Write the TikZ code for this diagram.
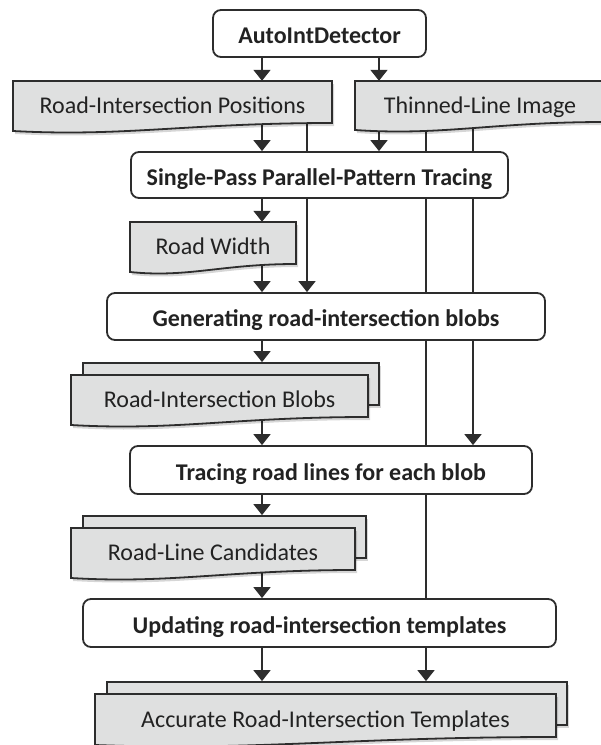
\documentclass[tikz,border=0pt]{standalone}
\usepackage{fontspec}
\setmainfont{Carlito}
\usetikzlibrary{arrows.meta,backgrounds}
\definecolor{ln}{RGB}{45,45,45}
\definecolor{docfill}{RGB}{223,224,224}
\definecolor{txt}{RGB}{34,34,34}
\tikzset{
  proc/.style={draw=ln, line width=1.8pt, rounded corners=8pt, fill=white, text=txt,
     font=\fontsize{24}{28}\selectfont\bfseries, inner sep=0pt, text height=20pt, text depth=0pt},
  doctext/.style={draw=none, fill=none, inner sep=0pt, text=txt,
     font=\fontsize{24}{28}\selectfont, text height=23.5pt, text depth=0pt},
  docline/.style={draw=ln, line width=1.8pt, fill=docfill, line join=miter},
  docshadow/.style={fill=black, opacity=0.16},
  conn/.style={draw=ln, line width=1.8pt},
  arr/.style={conn, -{Triangle[width=17pt,length=11pt]}},
}
\newcommand\docshape[6]{%
  \fill[docshadow] ({#2+2},{#3+3}) -- ({#4+2},{#3+3}) -- ({#4+2},{#5+3}) .. controls ({#2+0.55*(#4-#2)+2},{#5+3}) and ({#2+0.35*(#4-#2)+2},{#5+17}) .. ({#2+2},{#5+11}) -- cycle;
  \path[docline] (#2,#3) -- (#4,#3) -- (#4,#5) .. controls ({#2+0.55*(#4-#2)},#5) and ({#2+0.35*(#4-#2)},{#5+14}) .. (#2,{#5+8}) -- cycle;
  \node[doctext, minimum width={(#4-#2)*1pt}, minimum height={(#5-#3)*1pt}] (#1) at ({(#2+#4)/2},{(#3+#5)/2}) {#6};
}
\newcommand\multidoc[6]{%
  \fill[docshadow] ({#2+14},{#3-9}) rectangle ({#4+13},{#5-9});
  \node[docline, inner sep=0pt, minimum width={(#4-#2-1)*1pt}, minimum height={(#5-#3)*1pt}] (#1b) at ({(#2+#4)/2+11.5},{(#3+#5)/2-12}) {};
  \docshape{#1}{#2}{#3}{#4}{#5}{#6}
}
\begin{document}
\begin{tikzpicture}[x=1pt,y=-1pt]
\path[use as bounding box, clip] (0,0) rectangle (601,745);
\coordinate (c1) at (262,0);
\coordinate (c2) at (379,0);
\coordinate (c3) at (307,0);
\coordinate (c4) at (426,0);
\coordinate (c5) at (473,0);

\node[proc, minimum width=213pt, minimum height=47pt] (auto) at (319.5,33.5) {AutoIntDetector};
\docshape{rip}{13}{81}{332}{123}{Road-Intersection Positions}
\docshape{thin}{355}{81}{605}{122}{Thinned-Line Image}
\node[proc, minimum width=377pt, minimum height=46pt] (sp) at (319.5,175) {Single-Pass Parallel-Pattern Tracing};
\docshape{rw}{130}{222}{296}{264}{Road Width}
\node[proc, minimum width=438pt, minimum height=47pt] (gen) at (326,316.5) {Generating road-intersection blobs};
\multidoc{blobs}{71}{375}{368}{417}{Road-Intersection Blobs}
\node[proc, minimum width=402pt, minimum height=48pt] (trace) at (331,470) {Tracing road lines for each blob};
\multidoc{cand}{71}{528}{355}{570}{Road-Line Candidates}
\node[proc, minimum width=473pt, minimum height=48pt] (upd) at (319.5,623) {Updating road-intersection templates};
\multidoc{temp}{95}{694}{556}{737}{Accurate Road-Intersection Templates}

\begin{pgfonlayer}{background}
\draw[arr] (auto.south -| c1) -- (rip.north -| c1);
\draw[arr] (auto.south -| c2) -- (thin.north -| c2);
\draw[arr] (rip.south -| c1) -- (sp.north -| c1);
\draw[arr] (thin.south -| c2) -- (sp.north -| c2);
\draw[arr] (sp.south -| c1) -- (rw.north -| c1);
\draw[arr] (rw.south -| c1) -- (gen.north -| c1);
\draw[arr] (rip.south -| c3) -- (gen.north -| c3);
\draw[arr] (gen.south -| c1) -- (blobsb.north -| c1);
\draw[arr] (blobs.south -| c1) -- (trace.north -| c1);
\draw[conn] (thin.south -| c4) -- (upd.north -| c4);
\draw[arr] (thin.south -| c5) -- (trace.north -| c5);
\draw[arr] (trace.south -| c1) -- (candb.north -| c1);
\draw[arr] (cand.south -| c1) -- (upd.north -| c1);
\draw[arr] (upd.south -| c1) -- (tempb.north -| c1);
\draw[arr] (upd.south -| c4) -- (tempb.north -| c4);
\end{pgfonlayer}
\end{tikzpicture}
\end{document}
